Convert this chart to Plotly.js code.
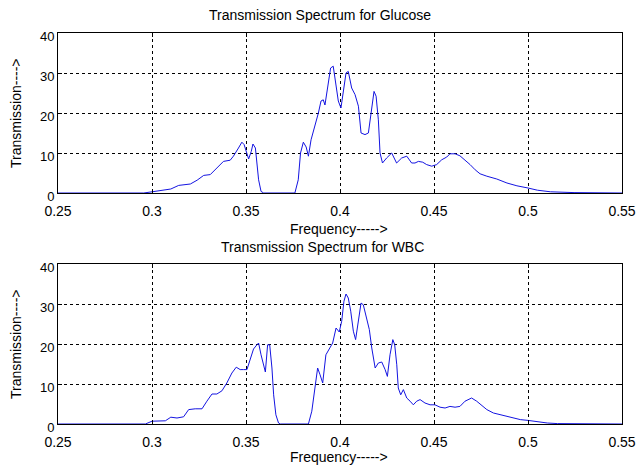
<!DOCTYPE html>
<html><head><meta charset="utf-8">
<script src="https://cdn.plot.ly/plotly-3.0.1.min.js"></script>
<style>html,body{margin:0;padding:0;background:#fff}#chart{width:639px;height:466px}</style>
</head><body><div id="chart"></div>
<script>
const glucoseFreq = [0.25,0.2956,0.30,0.3045,0.31,0.3142,0.3204,0.324,0.3275,0.331,0.3345,0.338,0.3416,0.3433,0.346,0.3478,0.349,0.3514,0.3528,0.3537,0.355,0.3558,0.3567,0.358,0.3594,0.376,0.3778,0.379,0.3805,0.382,0.3832,0.3846,0.3867,0.3885,0.3899,0.3911,0.392,0.3938,0.395,0.3964,0.3977,0.3991,0.4005,0.4018,0.4032,0.4044,0.4062,0.408,0.4098,0.4112,0.4133,0.4151,0.4169,0.4181,0.4192,0.4204,0.4213,0.4226,0.4248,0.4275,0.4301,0.4328,0.4355,0.4381,0.4399,0.4417,0.444,0.4461,0.4488,0.4514,0.4541,0.4568,0.4585,0.4612,0.4638,0.4665,0.4692,0.4719,0.4745,0.4781,0.4834,0.4888,0.4941,0.5,0.505,0.512,0.5174,0.5245,0.55];
const glucoseT = [0,0,0.3,0.7,1.0,1.9,2.25,3.2,4.4,4.6,6.25,7.9,8.2,9.2,11.25,12.7,12.1,8.5,10.4,12.25,11.25,7.5,3.3,0.4,0,0,3.3,10,12.7,11.5,9.2,13.3,16.7,20,23,23.3,22,27.9,31.25,31.7,27.5,23,21.25,25.8,30,30.4,26.25,24.6,21.7,15,14.6,15,21.25,25.4,24.2,18.3,10,7.5,8.75,10,7.5,8.75,9.2,7.5,7.5,7.9,7.7,7.1,6.7,7.1,8.3,9,9.8,9.8,9.3,8.3,7.1,5.8,4.8,4.2,3.5,2.5,1.8,1.25,0.7,0.3,0.2,0.1,0];
const wbcFreq = [0.25,0.2965,0.30,0.3045,0.3071,0.31,0.3133,0.3168,0.3195,0.323,0.3266,0.3292,0.3319,0.3345,0.3372,0.3398,0.3425,0.3448,0.3469,0.3487,0.3505,0.3523,0.354,0.3558,0.3567,0.358,0.3603,0.3615,0.3626,0.3638,0.3647,0.3659,0.3673,0.3682,0.3832,0.385,0.3867,0.3881,0.3894,0.3908,0.3925,0.3947,0.3961,0.3979,0.3996,0.4009,0.4021,0.4032,0.4044,0.4057,0.4071,0.4083,0.4098,0.4112,0.4124,0.4142,0.4156,0.4169,0.4187,0.4204,0.4222,0.424,0.4252,0.4266,0.4281,0.4291,0.4302,0.431,0.4323,0.4337,0.4355,0.4373,0.439,0.4408,0.4426,0.4452,0.4479,0.4505,0.4532,0.4559,0.4585,0.4612,0.4638,0.4665,0.47,0.4727,0.4754,0.4781,0.4816,0.4861,0.4915,0.4959,0.5,0.505,0.5103,0.5157,0.55];
const wbcT = [0,0,0.7,0.7,0.8,1.7,1.5,1.8,3.6,3.8,3.8,5.7,7.5,7.5,8.3,10.25,12.75,14.2,13.6,13.6,13.6,16.25,18.75,19.8,20.25,17.3,13,19.8,19.8,14,7.3,2.3,0.25,0,0,3.2,9,14,12.3,10.25,17.3,19,20.25,24,23,25.7,30.7,32.5,31.5,28.2,23.2,21.1,25.7,30.25,29.8,26.5,23.6,19,14,15.25,15.5,13.6,11.9,17.3,21.1,19.8,14.8,9,7.3,8.6,6.5,5.7,4.8,5.7,6.1,5.25,4.8,4.8,4.2,4,4.4,4.2,4.4,5.7,6.5,5.7,4.7,3.6,2.75,2.2,1.5,1.1,0.9,0.5,0.25,0.1,0];
const xTicks = [0.25,0.3,0.35,0.4,0.45,0.5,0.55];
const xTickText = ['0.25','0.3','0.35','0.4','0.45','0.5','0.55'];
const yTicks = [0,10,20,30,40];
const titles = ['Transmission Spectrum for Glucose','Transmission Spectrum for WBC'];
const xLabel = 'Frequency----->';
const yLabel = 'Transmission---->';

const lineStyle = {color:'rgb(20,20,225)', width:1};
const traces = [
  {x:glucoseFreq, y:glucoseT, type:'scatter', mode:'lines', line:lineStyle, xaxis:'x', yaxis:'y', hoverinfo:'skip'},
  {x:wbcFreq, y:wbcT, type:'scatter', mode:'lines', line:lineStyle, xaxis:'x2', yaxis:'y2', hoverinfo:'skip'}
];
const fnt = {family:'Liberation Sans, Arial, sans-serif', size:14, color:'#000'};
const yfnt = {family:'Liberation Sans, Arial, sans-serif', size:13, color:'#000'};
function xa(anchor){return {domain:[0,1], anchor:anchor, range:[0.25,0.55], tickvals:xTicks, ticktext:xTickText,
  showgrid:true, gridcolor:'#000', griddash:'3px,3px', gridwidth:1, zeroline:false,
  showline:true, linecolor:'#000', linewidth:1, mirror:'ticks', ticks:'inside', ticklen:4, tickcolor:'#000',
  tickfont:fnt, ticklabelstandoff:5, fixedrange:true};}
function ya(dom, anchor){return {domain:dom, anchor:anchor, range:[0,40], tickvals:yTicks,
  showgrid:true, gridcolor:'#000', griddash:'3px,3px', gridwidth:1, zeroline:false,
  showline:true, linecolor:'#000', linewidth:1, mirror:'ticks', ticks:'inside', ticklen:4, tickcolor:'#000',
  tickfont:yfnt, ticklabelshift:3, fixedrange:true};}
// margins: l=58, r=17, t=33, b=42 -> paper y0 at px 424, height 391
const topDom = [(424-193)/391, 1];
const botDom = [0, (424-264)/391];
const px2x = p => (p-58)/564;
const py2y = p => (424-p)/391;
const annFont = {family:'Liberation Sans, Arial, sans-serif', size:14, color:'#000'};
const annotations = [
  {text:titles[0], x:px2x(320), y:py2y(15), xref:'paper', yref:'paper', showarrow:false, xanchor:'center', yanchor:'middle', font:annFont},
  {text:titles[1], x:px2x(322), y:py2y(247), xref:'paper', yref:'paper', showarrow:false, xanchor:'center', yanchor:'middle', font:annFont},
  {text:xLabel, x:px2x(339), y:py2y(229), xref:'paper', yref:'paper', showarrow:false, xanchor:'center', yanchor:'middle', font:annFont},
  {text:xLabel, x:px2x(339), y:py2y(457), xref:'paper', yref:'paper', showarrow:false, xanchor:'center', yanchor:'middle', font:annFont},
  {text:yLabel, x:px2x(16), y:py2y(113), xref:'paper', yref:'paper', showarrow:false, xanchor:'center', yanchor:'middle', textangle:-90, font:annFont},
  {text:yLabel, x:px2x(16), y:py2y(344), xref:'paper', yref:'paper', showarrow:false, xanchor:'center', yanchor:'middle', textangle:-90, font:annFont}
];
const layout = {
  width:639, height:466, margin:{l:58, r:17, t:33, b:42},
  paper_bgcolor:'#fff', plot_bgcolor:'#fff', showlegend:false,
  xaxis: xa('y'),
  yaxis: ya(topDom,'x'),
  xaxis2: xa('y2'),
  yaxis2: ya(botDom,'x2'),
  annotations: annotations
};
Plotly.newPlot('chart', traces, layout, {staticPlot:true, displayModeBar:false});
</script></body></html>
